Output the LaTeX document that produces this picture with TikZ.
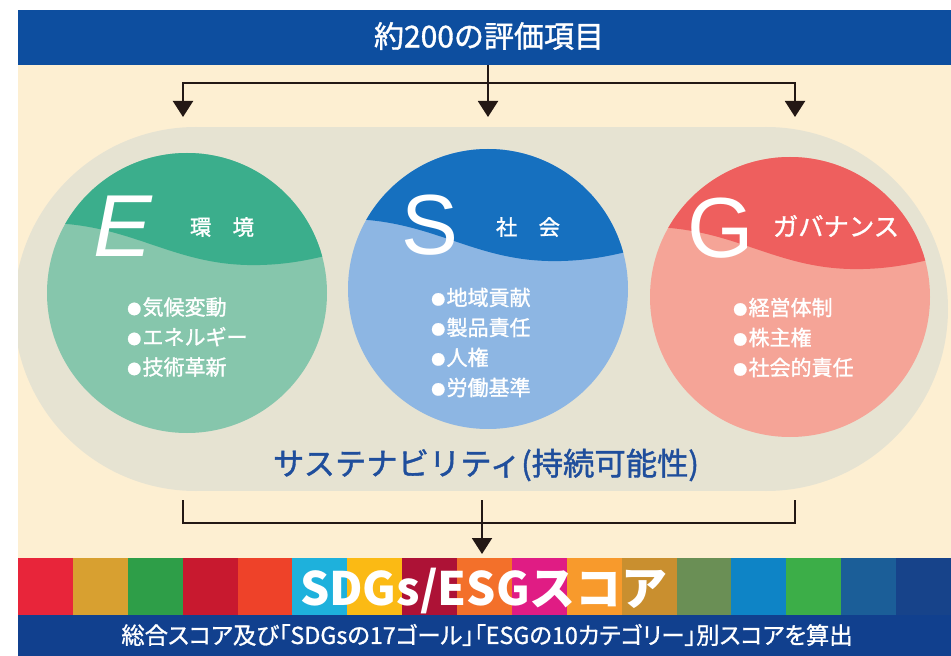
\documentclass[tikz,border=0pt]{standalone}
\usepackage{fontspec}
\usepackage{graphicx}
\usetikzlibrary{arrows.meta}
\newfontfamily\jp[FakeBold=1.3]{Noto Sans CJK JP}
\newfontfamily\jpp[FakeBold=1.1,RawFeature=+palt]{Noto Sans CJK JP}
\newfontfamily\jpb{Noto Sans CJK JP}
\newfontfamily\lat{Liberation Sans}
\definecolor{bannerc}{HTML}{0D4E9F}
\definecolor{beigec}{HTML}{FDEFD2}
\definecolor{pillc}{HTML}{E6E3D2}
\definecolor{edark}{HTML}{3BAE8C}
\definecolor{elight}{HTML}{86C6AC}
\definecolor{sdark}{HTML}{1670BF}
\definecolor{slight}{HTML}{8DB6E3}
\definecolor{gdark}{HTML}{EE5F5E}
\definecolor{glight}{HTML}{F5A497}
\definecolor{labelc}{HTML}{1F4E9C}
\definecolor{barc}{HTML}{11408E}
\definecolor{linec}{HTML}{231815}
\definecolor{sdga}{HTML}{E8253A}
\definecolor{sdgb}{HTML}{D8A030}
\definecolor{sdgc}{HTML}{2E9E48}
\definecolor{sdgd}{HTML}{C8192F}
\definecolor{sdge}{HTML}{EE4229}
\definecolor{sdgf}{HTML}{1EB1DC}
\definecolor{sdgg}{HTML}{FBBA14}
\definecolor{sdgh}{HTML}{AD1236}
\definecolor{sdgi}{HTML}{F3702A}
\definecolor{sdgj}{HTML}{E01C84}
\definecolor{sdgk}{HTML}{F89A2C}
\definecolor{sdgl}{HTML}{C98F2F}
\definecolor{sdgm}{HTML}{6A8F55}
\definecolor{sdgn}{HTML}{0E84C6}
\definecolor{sdgo}{HTML}{3CAE48}
\definecolor{sdgp}{HTML}{1B5E98}
\definecolor{sdgq}{HTML}{17438A}
\newcommand{\bul}{\raisebox{0.5pt}{\fontsize{10.5}{10}\selectfont ●}\hspace{1pt}}
\begin{document}
\begin{tikzpicture}[x=0.75pt,y=-0.75pt,
  conn/.style={line width=1.5pt,draw=linec},
  tip/.style={-{Triangle[width=15pt,length=12pt]}},
  txt/.style={inner sep=0pt,text=white},
  bigletter/.style={inner sep=0pt,text=white,font=\lat\fontsize{64}{64}\selectfont},
  head/.style={inner sep=0pt,text=white,font=\jp\fontsize{16}{16}\selectfont},
  items/.style={inner sep=0pt,text=white,align=left,anchor=west,font=\jp\fontsize{15.75}{22.5}\selectfont}]
\useasboundingbox (0,0) rectangle (951,656);
\fill[white] (0,0) rectangle (951,656);
\fill[beigec] (18,65) rectangle (951,558);
% pill
\begin{scope}
  \clip (18,65) rectangle (951,558);
  \fill[pillc] (196,309) circle[radius=136.5pt] (766,309) circle[radius=136.5pt];
  \fill[pillc] (196,127) rectangle (766,491);
\end{scope}
% banner
\fill[bannerc] (18,10) rectangle (951,65);
\node[txt,font=\jp\fontsize{22.5}{22.5}\selectfont] (title) at (489,36) {約200の評価項目};
% circles
\foreach \cx/\cy/\dk/\lt in {187/293/edark/elight, 488/289/sdark/slight, 790/297/gdark/glight}{
  \begin{scope}[shift={(\cx,\cy)}]
    \fill[\lt] (0,0) circle[radius=105pt];
    \begin{scope}
      \clip (0,0) circle[radius=105pt];
      \fill[\dk] (-150,-70) .. controls (-60,-72) and (-20,-30) .. (60,-28)
        .. controls (100,-27) and (130,-35) .. (150,-40) -- (150,-150) -- (-150,-150) -- cycle;
    \end{scope}
  \end{scope}
}
% E
\node[bigletter,font=\lat\itshape\fontsize{66}{66}\selectfont] (eL) at (123,226) {E};
\node[head] (eH) at (222,227) {環　境};
\node[items] (eI) at (127,337) {\bul 気候変動\\\bul エネルギー\\\bul 技術革新};
% S
\node[bigletter] (sL) at (430,225) {S};
\node[head] (sH) at (528,227) {社　会};
\node[items] (sI) at (431,342.5) {\bul 地域貢献\\\bul 製品責任\\\bul 人権\\\bul 労働基準};
% G
\node[bigletter] (gL) at (721,228) {G};
\node[head,font=\jp\fontsize{19}{19}\selectfont] (gH) at (836,226) {ガバナンス};
\node[items] (gI) at (733,337.5) {\bul 経営体制\\\bul 株主権\\\bul 社会的責任};
% label
\node[inner sep=0pt,text=labelc,font=\jp\fontsize{23.5}{23.5}\selectfont] (sus) at (486,465) {サステナビリティ(持続可能性)};
% top connectors
\coordinate (hb) at (488,65);
\coordinate (hj) at (488,83);
\coordinate (tE) at (183,117);
\coordinate (tS) at (488,117);
\coordinate (tG) at (795,117);
\draw[conn,tip] (hb) -- (tS);
\draw[conn,tip] (hj) -| (tE);
\draw[conn,tip] (hj) -| (tG);
% bottom connectors
\coordinate (bl) at (183,500);
\coordinate (bll) at (183,523);
\coordinate (br) at (795,500);
\coordinate (brr) at (795,523);
\coordinate (bc) at (482,500);
\coordinate (tB) at (482,554);
\draw[conn] (bl) -- (bll) -- (brr) -- (br);
\draw[conn,tip] (bc) -- (tB);
% stripe
\foreach \c [count=\i from 0] in {sdga,sdgb,sdgc,sdgd,sdge,sdgf,sdgg,sdgh,sdgi,sdgj,sdgk,sdgl,sdgm,sdgn,sdgo,sdgp,sdgq}{
  \fill[\c] ({18+\i*54.882},558) rectangle ({18+(\i+1)*54.882+0.5},615);
}
\node[txt,anchor=base,font=\jpb\bfseries\fontsize{34.5}{34.5}\selectfont] (score) at (484,605) {SDGs/ESGスコア};
% bottom bar
\fill[barc] (18,615) rectangle (951,656);
\node[txt,font=\jpp\fontsize{17.5}{17.5}\selectfont] (calc) at (487,635) {総合スコア及び「SDGsの17ゴール」「ESGの10カテゴリー」別スコアを算出};
\end{tikzpicture}
\end{document}
